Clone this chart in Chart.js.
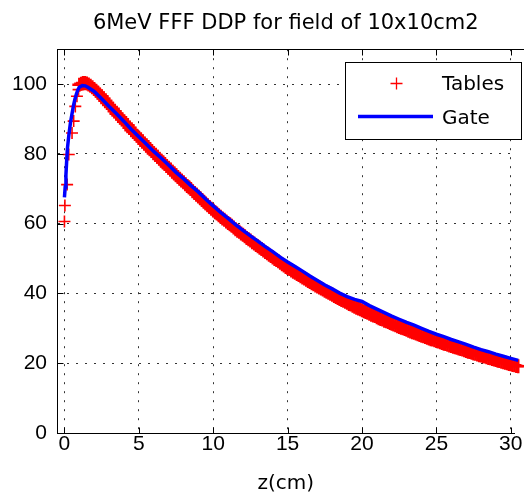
<!DOCTYPE html>
<html><head><meta charset="utf-8">
<script src="https://cdn.jsdelivr.net/npm/chart.js@4/dist/chart.umd.min.js"></script>
<style>html,body{margin:0;padding:0;background:#fff;overflow:hidden}</style>
</head><body><canvas id="c" width="524" height="495"></canvas>
<script>
const titleText = '6MeV FFF DDP for field of 10x10cm2';
const xLabel = 'z(cm)';
const xTicks = [0, 5, 10, 15, 20, 25, 30];
const yTicks = [0, 20, 40, 60, 80, 100];

// surface points (sparse, thin crosses)
const surfZ = [0, 0.03, 0.18, 0.29, 0.51, 0.62, 0.73, 0.84, 0.95];
const surfDose = [60.6, 65.2, 71.2, 79.8, 86.0, 89.4, 93.6, 96.5, 98.4];

// dense measured table points beyond the build-up region
const tablesZ = [
 1.0, 1.25, 1.5, 1.75, 2.0, 2.25, 2.5, 2.75, 3.0, 3.25, 3.5, 3.75, 4.0, 4.25, 4.5, 4.75,
 5.0, 5.25, 5.5, 5.75, 6.0, 6.25, 6.5, 6.75, 7.0, 7.25, 7.5, 7.75, 8.0, 8.25, 8.5, 8.75,
 9.0, 9.25, 9.5, 9.75, 10.0, 10.25, 10.5, 10.75, 11.0, 11.25, 11.5, 11.75, 12.0, 12.25, 12.5, 12.75,
 13.0, 13.25, 13.5, 13.75, 14.0, 14.25, 14.5, 14.75, 15.0, 15.25, 15.5, 15.75, 16.0, 16.25, 16.5, 16.75,
 17.0, 17.25, 17.5, 17.75, 18.0, 18.25, 18.5, 18.75, 19.0, 19.25, 19.5, 19.75, 20.0, 20.25, 20.5, 20.75,
 21.0, 21.25, 21.5, 21.75, 22.0, 22.25, 22.5, 22.75, 23.0, 23.25, 23.5, 23.75, 24.0, 24.25, 24.5, 24.75,
 25.0, 25.25, 25.5, 25.75, 26.0, 26.25, 26.5, 26.75, 27.0, 27.25, 27.5, 27.75, 28.0, 28.25, 28.5, 28.75,
 29.0, 29.25, 29.5, 29.75, 30.0, 30.25, 30.5];
const tablesDose = [
 99.8, 100.3, 100.2, 99.5, 98.6, 97.6, 96.5, 95.2, 94.0, 92.9, 91.5, 90.5, 89.2, 88.2, 86.8, 85.8,
 84.6, 83.6, 82.3, 81.4, 80.2, 79.2, 78.0, 77.1, 76.0, 74.9, 73.9, 72.9, 71.9, 70.8, 69.9, 68.8,
 67.8, 66.8, 65.8, 64.8, 63.8, 62.9, 62.0, 61.1, 60.2, 59.4, 58.4, 57.7, 56.8, 55.9, 55.2, 54.3,
 53.5, 52.7, 51.9, 51.1, 50.3, 49.6, 48.8, 48.0, 47.3, 46.6, 45.9, 45.3, 44.6, 43.9, 43.3, 42.6,
 42.0, 41.4, 40.8, 40.2, 39.6, 39.0, 38.4, 37.9, 37.3, 36.8, 36.2, 35.7, 35.2, 34.7, 34.2, 33.7,
 33.2, 32.7, 32.2, 31.8, 31.3, 30.9, 30.4, 30.0, 29.6, 29.1, 28.7, 28.3, 27.9, 27.5, 27.1, 26.8,
 26.4, 26.0, 25.6, 25.3, 24.9, 24.6, 24.2, 23.9, 23.5, 23.2, 22.8, 22.5, 22.2, 21.9, 21.5, 21.2,
 20.9, 20.6, 20.3, 20.0, 19.7, 19.4, 19.1];
// intermediate table depths
const tablesZMid = [
 1.125, 1.375, 1.625, 1.875, 2.125, 2.375, 2.625, 2.875, 3.125, 3.375, 3.625, 3.875, 4.125, 4.375, 4.625, 4.875,
 5.125, 5.375, 5.625, 5.875, 6.125, 6.375, 6.625, 6.875, 7.125, 7.375, 7.625, 7.875, 8.125, 8.375, 8.625, 8.875,
 9.125, 9.375, 9.625, 9.875, 10.125, 10.375, 10.625, 10.875, 11.125, 11.375, 11.625, 11.875, 12.125, 12.375, 12.625, 12.875,
 13.125, 13.375, 13.625, 13.875, 14.125, 14.375, 14.625, 14.875, 15.125, 15.375, 15.625, 15.875, 16.125, 16.375, 16.625, 16.875,
 17.125, 17.375, 17.625, 17.875, 18.125, 18.375, 18.625, 18.875, 19.125, 19.375, 19.625, 19.875, 20.125, 20.375, 20.625, 20.875,
 21.125, 21.375, 21.625, 21.875, 22.125, 22.375, 22.625, 22.875, 23.125, 23.375, 23.625, 23.875, 24.125, 24.375, 24.625, 24.875,
 25.125, 25.375, 25.625, 25.875, 26.125, 26.375, 26.625, 26.875, 27.125, 27.375, 27.625, 27.875, 28.125, 28.375, 28.625, 28.875,
 29.125, 29.375, 29.625, 29.875, 30.125, 30.375];
const tablesDoseMid = [
 100.1, 100.3, 99.9, 99.1, 98.1, 97.0, 95.9, 94.6, 93.4, 92.2, 91.0, 89.9, 88.7, 87.5, 86.3, 85.2,
 84.1, 82.9, 81.8, 80.8, 79.7, 78.6, 77.5, 76.5, 75.5, 74.4, 73.4, 72.4, 71.3, 70.4, 69.3, 68.3,
 67.3, 66.3, 65.3, 64.3, 63.3, 62.4, 61.5, 60.6, 59.8, 58.9, 58.0, 57.2, 56.4, 55.5, 54.7, 53.9,
 53.1, 52.3, 51.5, 50.7, 49.9, 49.2, 48.4, 47.6, 47.0, 46.2, 45.6, 44.9, 44.3, 43.6, 42.9, 42.3,
 41.7, 41.1, 40.5, 39.9, 39.3, 38.7, 38.1, 37.6, 37.0, 36.5, 35.9, 35.5, 34.9, 34.5, 33.9, 33.5,
 32.9, 32.5, 32.0, 31.5, 31.1, 30.6, 30.2, 29.8, 29.3, 28.9, 28.5, 28.1, 27.7, 27.3, 26.9, 26.6,
 26.2, 25.8, 25.5, 25.1, 24.7, 24.4, 24.1, 23.7, 23.3, 23.0, 22.7, 22.3, 22.0, 21.7, 21.4, 21.1,
 20.7, 20.4, 20.1, 19.8, 19.5, 19.2];

const gateZ = [0, 0.05, 0.1, 0.15, 0.2, 0.3, 0.4, 0.5, 0.6, 0.7, 0.8, 0.9, 1.0, 1.2, 1.4, 1.6, 2.0,
 2.5, 3, 3.5, 4, 4.5, 5, 5.5, 6, 6.5, 7, 7.5, 8, 8.5, 9, 9.5, 10, 10.5, 11, 11.5, 12, 12.5, 13, 13.5,
 14, 14.5, 15, 15.5, 16, 16.5, 17, 17.5, 18, 18.5, 19, 19.5, 20, 20.5, 21, 21.5, 22, 22.5, 23, 23.5,
 24, 24.5, 25, 25.5, 26, 26.5, 27, 27.5, 28, 28.5, 29, 29.5, 30, 30.5, 30.8];
const gateDose = [67.5, 70.5, 74, 78, 81.5, 85.5, 88.8, 91.3, 93.7, 95.6, 97.1, 98.3, 99.1, 99.6, 99.5, 99.0, 97.9,
 95.8, 93.6, 91.5, 89.3, 87.0, 84.9, 82.8, 80.7, 78.8, 76.8, 74.7, 72.9, 70.9, 69.1, 67.0, 65.1, 63.2, 61.5, 59.7,
 58.1, 56.5, 55.0, 53.4, 52.0, 50.4, 49.0, 47.7, 46.4, 45.0, 43.7, 42.4, 41.3, 40.1, 39.1, 38.3, 37.7, 36.5,
 35.5, 34.5, 33.5, 32.6, 31.7, 30.9, 30.0, 29.1, 28.3, 27.6, 26.8, 26.1, 25.4, 24.6, 23.9, 23.3, 22.6, 22.0,
 21.4, 20.8, 20.5];

const RED = '#ff0000', BLUE = '#0000ff';

const framePlugin = {
  id: 'frame',
  afterDatasetsDraw(chart) {
    const {ctx, chartArea: a, scales: {x, y}} = chart;
    ctx.save();
    ctx.strokeStyle = '#000'; ctx.lineWidth = 1; ctx.setLineDash([]);
    ctx.beginPath();
    const top = Math.round(a.top) + 0.5, bot = Math.round(a.bottom) + 0.5, left = Math.round(a.left) + 0.5;
    ctx.moveTo(left, top); ctx.lineTo(chart.width, top);
    x.ticks.forEach(t => {
      const px = Math.round(x.getPixelForValue(t.value)) + 0.5;
      ctx.moveTo(px, bot); ctx.lineTo(px, bot - 6);
      ctx.moveTo(px, top); ctx.lineTo(px, top + 6);
    });
    y.ticks.forEach(t => {
      const py = Math.round(y.getPixelForValue(t.value)) + 0.5;
      ctx.moveTo(left, py); ctx.lineTo(left + 6, py);
    });
    ctx.stroke();
    ctx.restore();
  }
};

const legendPlugin = {
  id: 'mLegend',
  afterDraw(chart) {
    const {ctx, chartArea: a} = chart;
    const ds = chart.data.datasets;
    const bx = 345.5, by = Math.round(a.top) + 13.5, bw = 176, bh = 77;
    ctx.save();
    ctx.fillStyle = '#fff';
    ctx.fillRect(bx, by, bw, bh);
    ctx.strokeStyle = '#000'; ctx.lineWidth = 1;
    ctx.strokeRect(bx, by, bw, bh);
    ctx.font = '20px "DejaVu Sans"';
    ctx.fillStyle = '#000'; ctx.textBaseline = 'middle'; ctx.textAlign = 'left';
    const y1 = by + 21, y2 = by + 54;
    ctx.strokeStyle = ds[0].borderColor; ctx.lineWidth = 1.3;
    ctx.beginPath();
    ctx.moveTo(396.5 - 6, y1); ctx.lineTo(396.5 + 6, y1);
    ctx.moveTo(396.5, y1 - 6); ctx.lineTo(396.5, y1 + 6);
    ctx.stroke();
    ctx.fillText(ds[0].label, 442, y1 + 1);
    ctx.strokeStyle = ds[2].borderColor; ctx.lineWidth = 3.5;
    ctx.beginPath(); ctx.moveTo(358, y2); ctx.lineTo(433, y2); ctx.stroke();
    ctx.fillText(ds[2].label, 442, y2 + 2);
    ctx.restore();
  }
};

const tickFont = {family: '"Liberation Sans", Arial, sans-serif', size: 21, lineHeight: 1.1};
const txtFont = {family: '"DejaVu Sans", sans-serif', size: 20, weight: 'normal', lineHeight: 1.15};
const clipBox = {left: 8, right: 10, top: 0, bottom: 0};

const tablePts = tablesZ.map((z, i) => ({x: z, y: tablesDose[i]}))
  .concat(tablesZMid.map((z, i) => ({x: z, y: tablesDoseMid[i]})));

new Chart(document.getElementById('c'), {
  type: 'scatter',
  data: {
    datasets: [
      {
        label: 'Tables',
        data: tablePts,
        showLine: false,
        pointStyle: 'cross', pointRadius: 7, pointBorderWidth: 2.5,
        borderColor: RED, backgroundColor: RED, pointBorderColor: RED,
        order: 2, clip: clipBox
      },
      {
        label: 'Tables (surface)',
        data: surfZ.map((z, i) => ({x: z, y: surfDose[i]})),
        showLine: false,
        pointStyle: 'cross', pointRadius: 6, pointBorderWidth: 1.6,
        borderColor: RED, backgroundColor: RED, pointBorderColor: RED,
        order: 1, clip: clipBox
      },
      {
        label: 'Gate',
        data: gateZ.map((z, i) => ({x: z, y: gateDose[i]})),
        showLine: true, pointRadius: 0, borderWidth: 3.5,
        borderColor: BLUE, backgroundColor: BLUE, tension: 0,
        order: 0, clip: clipBox
      }
    ]
  },
  options: {
    responsive: false, animation: false, devicePixelRatio: 1,
    layout: {padding: {left: 0, right: 0, top: 0, bottom: 0}},
    plugins: {
      legend: {display: false},
      tooltip: {enabled: false},
      title: {
        display: true, text: titleText, color: '#000', fullSize: false,
        font: {family: '"DejaVu Sans", sans-serif', size: 21, weight: 'normal', lineHeight: 1.2},
        padding: {top: 11, bottom: 13}
      }
    },
    scales: {
      x: {
        type: 'linear', min: -0.5, max: 30.25,
        afterBuildTicks: s => { s.ticks = xTicks.map(v => ({value: v})); },
        afterFit: s => { s.height = 62; },
        ticks: {color: '#000', font: tickFont, padding: 0, maxRotation: 0, autoSkip: false},
        grid: {color: '#333', lineWidth: 1, drawTicks: false},
        border: {display: true, color: '#000', width: 1, dash: [2, 7]},
        title: {display: true, text: xLabel, color: '#000', font: txtFont, padding: {top: 0, bottom: 0}}
      },
      y: {
        type: 'linear', min: 0, max: 110,
        afterBuildTicks: s => { s.ticks = yTicks.map(v => ({value: v})); },
        afterFit: s => { s.width = 57; },
        ticks: {color: '#000', font: tickFont, padding: 10, autoSkip: false},
        grid: {color: '#333', lineWidth: 1, drawTicks: false},
        border: {display: true, color: '#000', width: 1, dash: [2, 7]}
      }
    }
  },
  plugins: [framePlugin, legendPlugin]
});
</script>
</body></html>
